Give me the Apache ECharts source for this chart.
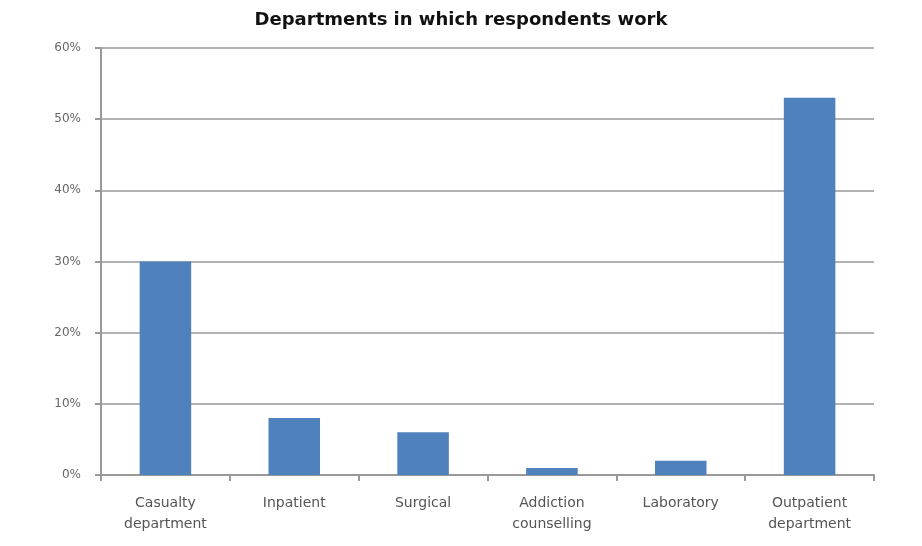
<!DOCTYPE html>
<html><head><meta charset="utf-8">
<script src="https://cdn.jsdelivr.net/npm/echarts@6/dist/echarts.min.js"></script>
<style>html,body{margin:0;padding:0;background:#fff}#c{width:922px;height:546px}</style>
</head><body><div id="c"></div>
<script>
const categories = ['Casualty\ndepartment', 'Inpatient', 'Surgical', 'Addiction\ncounselling', 'Laboratory', 'Outpatient\ndepartment'];
const values = [30, 8, 6, 1, 2, 53];
const title = 'Departments in which respondents work';

const chart = echarts.init(document.getElementById('c'));
chart.setOption({
  animation: false,
  title: { text: title, left: 'center', top: 6,
    textStyle: { fontFamily: 'DejaVu Sans', fontSize: 18, fontWeight: 'bold', color: '#111' } },
  grid: { left: 101, right: 48, top: 48, bottom: 71 },
  xAxis: {
    type: 'category', data: categories,
    axisLine: { lineStyle: { color: '#999', width: 2 } },
    axisTick: { show: true, length: 6, lineStyle: { color: '#999', width: 2 } },
    axisLabel: { fontFamily: 'DejaVu Sans', fontSize: 14, color: '#555', margin: 18, lineHeight: 21 }
  },
  yAxis: {
    type: 'value', min: 0, max: 60, interval: 10,
    axisLine: { show: true, lineStyle: { color: '#999', width: 2 } },
    axisTick: { show: true, length: 6, lineStyle: { color: '#999', width: 2 } },
    splitLine: { lineStyle: { color: '#999', width: 1.5 } },
    axisLabel: { formatter: '{value}%', fontFamily: 'DejaVu Sans', fontSize: 12, color: '#666', margin: 20 }
  },
  series: [{
    type: 'bar', data: values, barWidth: '40%',
    itemStyle: { color: '#4f81bd' }
  }]
});
</script></body></html>
